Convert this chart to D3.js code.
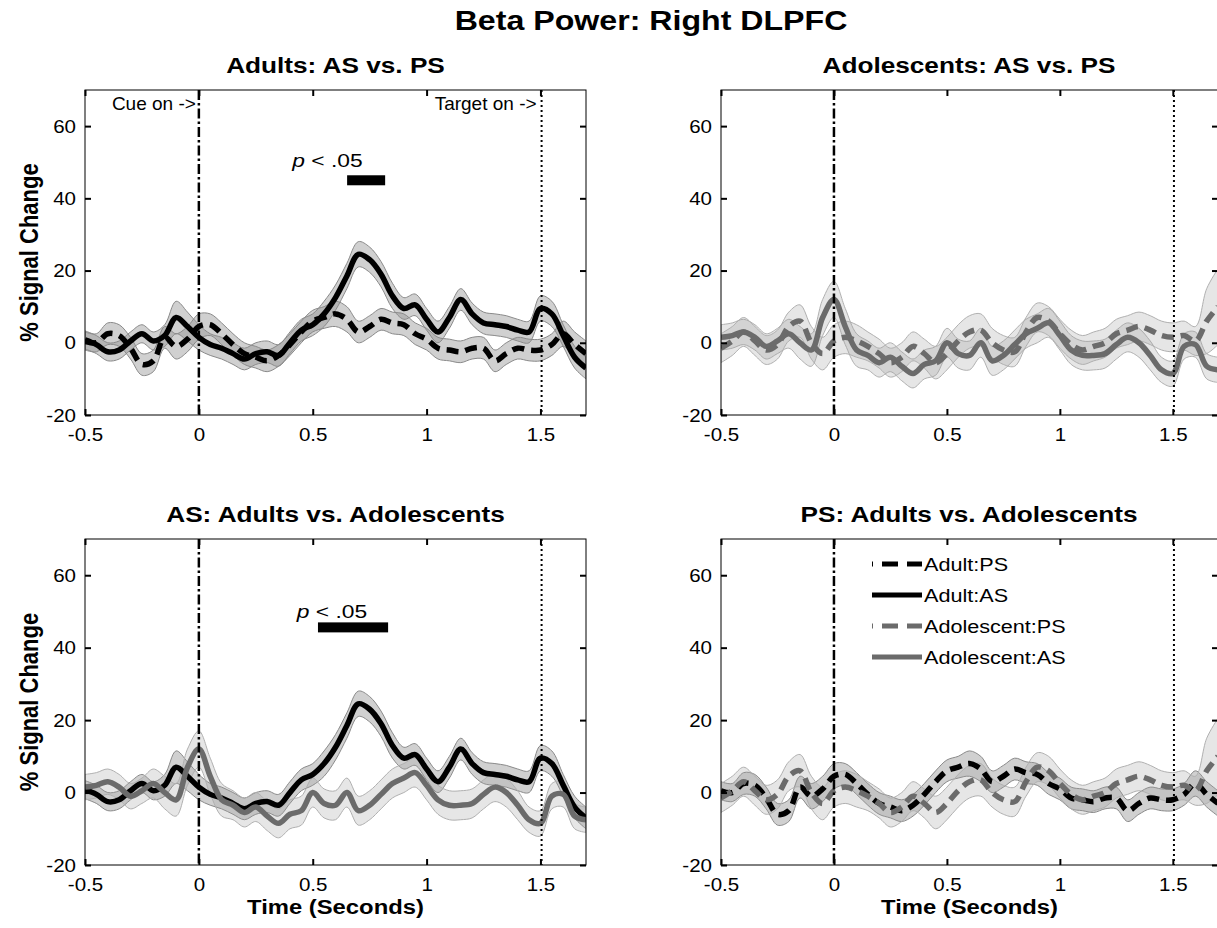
<!DOCTYPE html>
<html>
<head>
<meta charset="utf-8">
<script src="https://cdn.jsdelivr.net/npm/d3@7"></script>
<style>
  html, body { margin: 0; padding: 0; background: #fff; overflow: hidden; }
  svg { display: block; }
  text { font-family: "Liberation Sans", Arial, Helvetica, sans-serif; fill: #000; }
</style>
</head>
<body>
<svg id="fig" width="1217" height="928"></svg>
<script>
// ---- data -------------------------------------------------------------
// sample times (seconds, relative to cue onset)
const timeSec = [-0.5,-0.45,-0.4,-0.35,-0.3,-0.25,-0.2,-0.15,-0.1,-0.05,
  0,0.05,0.1,0.15,0.2,0.25,0.3,0.35,0.4,0.45,
  0.5,0.55,0.6,0.65,0.7,0.75,0.8,0.85,0.9,0.95,
  1,1.05,1.1,1.15,1.2,1.25,1.3,1.35,1.4,1.45,
  1.5,1.55,1.6,1.65,1.7];

// mean % signal change and standard error, per group and task
const adultAS = [0.8,-0.5,-2.5,-2,0.5,2.5,0.5,2,7,4.5,
  1.5,-0.5,-1.5,-3,-4.5,-3,-2.5,-3.5,0,3.5,
  5,8,12.5,18.5,24.5,23,19,13,9.5,10.5,
  6.5,3,7,12,8,5.5,5,4.5,3.5,3,
  9.5,8,2,-4,-7];
const adultASse = [2.5,2.5,2.5,2.5,2.5,2.5,2.5,3,4.5,4,
  3.5,3,3,3,3,3,3,3,3,3,
  3,3.5,3.5,3.5,3.5,3.5,3.5,3.5,3,3,
  3,3,3,3,3,3,3,3,3,3,
  3.5,3.5,3,3,3];

const adultPS = [0.5,0,2.5,2,-1.5,-6,-5,1.5,-1,1,
  4.5,5,2.5,-0.5,-3,-4,-5,-3.5,-0.5,3,
  6,7,8,6.5,3,4.5,6.5,5.5,5,2.5,
  1,-1.5,-2,-2.5,-1.5,-1.5,-5,-3,-1.5,-2,
  -2,-0.5,2.5,-0.5,-3];
const adultPSse = [2.5,2.5,3,3,3,3,3,3,3.5,3.5,
  3.5,3,3,3,3,3,3,3,3,3,
  3,3,3.5,3.5,3,3,3,3,3,3,
  3,3,3,3,3,3,3,3,3,3,
  3,3,3.5,3.5,3.5];

const adolAS = [1.5,2,3,1.5,-1,0.5,2.5,0,-2,7,
  12,4.5,-2,-3.5,-5.5,-4,-6.5,-8.5,-6,-5,
  0,-3,-3.5,0,-5,-3.5,-0.5,2.5,4,5.5,
  2,-2,-3.5,-3.5,-3,-0.5,1.5,0,-3.5,-7.5,
  -8.5,-1,-0.5,-6.5,-7.5];
const adolASse = [3.5,3.5,3.5,3.5,3.5,3.5,4,4.5,4.5,5,
  5,5,4.5,4,4,4,4,4,4,4,
  4,4,4,4,4,4,4,4,4,4,
  4,4,4,4,4,4,4,4,4,3.5,
  3.5,3.5,3.5,3.5,3.5];

const adolPS = [-1.5,0.5,3,0.5,-2,-0.5,4.5,6,0,-3,
  0.5,1.5,0.5,-1,-3,-5.5,-4,-1,-3,-5.5,
  -3,0.5,3,3.5,0,-2,-2.5,3,7,6,
  2.5,-0.5,-2,-1,0,2.5,3.5,4.5,3.5,2,
  1.5,2,0.5,6,10];
const adolPSse = [4,4,4,4,4,4,4,4.5,4.5,4.5,
  4.5,4.5,4.5,4,4,4,4,4,4,4.5,
  4.5,4.5,4.5,4.5,4,4,4,4,4,4,
  4,4,4,4,4,4,4,4,4,4,
  4,4,4,9,10.5];

const seriesNames = ["Adult:PS", "Adult:AS", "Adolescent:PS", "Adolescent:AS"];
const seriesMean = { "Adult:PS": adultPS, "Adult:AS": adultAS, "Adolescent:PS": adolPS, "Adolescent:AS": adolAS };
const seriesSE   = { "Adult:PS": adultPSse, "Adult:AS": adultASse, "Adolescent:PS": adolPSse, "Adolescent:AS": adolASse };

const panelTitles = ["Adults: AS vs. PS", "Adolescents: AS vs. PS",
                     "AS: Adults vs. Adolescents", "PS: Adults vs. Adolescents"];
const panelSeries = [["Adult:AS", "Adult:PS"], ["Adolescent:AS", "Adolescent:PS"],
                     ["Adult:AS", "Adolescent:AS"], ["Adult:PS", "Adolescent:PS"]];

const xTicks = [-0.5, 0, 0.5, 1, 1.5];
const yTicks = [-20, 0, 20, 40, 60];
const xDomain = [-0.5, 1.7];
const yDomain = [-20, 70];

const cueTime = 0;
const targetTime = 1.505;

// significance bars: panel index, time span, height (% change)
const sigBars = [
  { panel: 0, t0: 0.651, t1: 0.818, y: 45.0, labelT: 0.41, labelY: 48.6 },
  { panel: 2, t0: 0.523, t1: 0.831, y: 45.6, labelT: 0.43, labelY: 48.3 }
];

// ---- styling ----------------------------------------------------------
const lineStyle = {
  "Adult:PS":      { color: "#000000", dash: "12,7", band: "adult" },
  "Adult:AS":      { color: "#000000", dash: null,   band: "adult" },
  "Adolescent:PS": { color: "#6b6b6b", dash: "12,7", band: "adol" },
  "Adolescent:AS": { color: "#6b6b6b", dash: null,   band: "adol" }
};
const bandStyle = {
  adult: { fill: "#8f8f8f", opacity: 0.42, stroke: "#8a8a8a" },
  adol:  { fill: "#a0a0a0", opacity: 0.26, stroke: "#b0b0b0" }
};

const panels = [
  { left: 85,  top: 90,  width: 501, height: 325 },
  { left: 721, top: 90,  width: 497, height: 325 },
  { left: 85,  top: 539, width: 501, height: 326 },
  { left: 721, top: 539, width: 497, height: 326 }
];

const svg = d3.select("#fig");

function stretch(sel, k) {
  sel.each(function () {
    const w = this.getComputedTextLength();
    d3.select(this).attr("textLength", w * k).attr("lengthAdjust", "spacingAndGlyphs");
  });
}

const fmt = d => String(d);

// ---- figure title -----------------------------------------------------
svg.append("text")
  .attr("x", 651).attr("y", 30)
  .attr("text-anchor", "middle")
  .style("font-weight", "bold").style("font-size", "27px")
  .text("Beta Power: Right DLPFC")
  .call(stretch, 1.19);

// ---- panels -----------------------------------------------------------
panels.forEach((p, i) => {
  const x = d3.scaleLinear().domain(xDomain).range([0, p.width]);
  const y = d3.scaleLinear().domain(yDomain).range([p.height, 0]);
  const g = svg.append("g").attr("transform", `translate(${p.left},${p.top})`);

  const clipId = "clip" + i;
  g.append("clipPath").attr("id", clipId)
    .append("rect").attr("width", p.width).attr("height", p.height);
  const plot = g.append("g").attr("clip-path", `url(#${clipId})`);

  const names = panelSeries[i];

  // error bands
  names.forEach(name => {
    const m = seriesMean[name], se = seriesSE[name];
    const pts = timeSec.map((t, k) => ({ t, lo: m[k] - se[k], hi: m[k] + se[k] }));
    const bs = bandStyle[lineStyle[name].band];
    plot.append("path")
      .datum(pts)
      .attr("d", d3.area().x(d => x(d.t)).y0(d => y(d.lo)).y1(d => y(d.hi)).curve(d3.curveCatmullRom))
      .attr("fill", bs.fill).attr("fill-opacity", bs.opacity)
      .attr("stroke", bs.stroke).attr("stroke-width", 1);
  });

  // mean traces
  names.forEach(name => {
    const m = seriesMean[name];
    const st = lineStyle[name];
    const pts = timeSec.map((t, k) => ({ t, v: m[k] }));
    plot.append("path")
      .datum(pts)
      .attr("d", d3.line().x(d => x(d.t)).y(d => y(d.v)).curve(d3.curveCatmullRom))
      .attr("fill", "none")
      .attr("stroke", st.color).attr("stroke-width", 5.5)
      .attr("stroke-linejoin", "round")
      .attr("stroke-dasharray", st.dash);
  });

  // cue and target onset markers
  plot.append("line")
    .attr("x1", x(cueTime)).attr("x2", x(cueTime))
    .attr("y1", 0).attr("y2", p.height)
    .attr("stroke", "#000").attr("stroke-width", 2.5)
    .attr("stroke-dasharray", "10,3,2.5,3");
  plot.append("line")
    .attr("x1", x(targetTime)).attr("x2", x(targetTime))
    .attr("y1", 0).attr("y2", p.height)
    .attr("stroke", "#000").attr("stroke-width", 2)
    .attr("stroke-dasharray", "2,3");

  // frame
  g.append("rect").attr("width", p.width).attr("height", p.height)
    .attr("fill", "none").attr("stroke", "#000").attr("stroke-width", 1);

  // axes with inward ticks on all four sides
  const axB = g.append("g").attr("transform", `translate(0,${p.height})`)
    .call(d3.axisBottom(x).tickValues(xTicks).tickSize(-6).tickPadding(13).tickFormat(fmt));
  const axT = g.append("g")
    .call(d3.axisTop(x).tickValues(xTicks).tickSize(-6).tickFormat(""));
  const axL = g.append("g")
    .call(d3.axisLeft(y).tickValues(yTicks).tickSize(-6).tickPadding(9).tickFormat(fmt));
  const axR = g.append("g").attr("transform", `translate(${p.width},0)`)
    .call(d3.axisRight(y).tickValues(yTicks).tickSize(-6).tickFormat(""));
  [axB, axT, axL, axR].forEach(a => {
    a.select(".domain").remove();
    a.selectAll(".tick line").attr("stroke", "#000").attr("stroke-width", 2);
    a.selectAll(".tick text")
      .style("font-family", '"Liberation Sans", Arial, sans-serif')
      .style("font-size", "19px").attr("fill", "#000");
  });
  axB.selectAll(".tick text").call(stretch, 1.08);
  axL.selectAll(".tick text").call(stretch, 1.08);

  // panel title
  g.append("text")
    .attr("x", p.width / 2 + (i % 2 === 1 ? -0.5 : 0)).attr("y", -17)
    .attr("text-anchor", "middle")
    .style("font-weight", "bold").style("font-size", "22px")
    .text(panelTitles[i])
    .call(stretch, 1.19);

  // y label on left column
  if (i % 2 === 0) {
    g.append("text")
      .attr("transform", `translate(${38 - p.left},${p.height / 2}) rotate(-90) scale(1,1.19)`)
      .attr("text-anchor", "middle")
      .style("font-weight", "bold").style("font-size", "22px")
      .text("% Signal Change");
  }
  // x label on bottom row
  if (i >= 2) {
    g.append("text")
      .attr("x", p.width / 2).attr("y", p.height + 49)
      .attr("text-anchor", "middle")
      .style("font-weight", "bold").style("font-size", "20px")
      .text("Time (Seconds)")
      .call(stretch, 1.19);
  }

  // onset annotations on the first panel
  if (i === 0) {
    g.append("text").attr("x", x(cueTime) - 3).attr("y", 20)
      .attr("text-anchor", "end").style("font-size", "19px")
      .text("Cue on ->");
    g.append("text").attr("x", x(targetTime) - 5).attr("y", 20)
      .attr("text-anchor", "end").style("font-size", "19px")
      .text("Target on ->");
  }

  // significance bars
  sigBars.filter(b => b.panel === i).forEach(b => {
    g.append("rect")
      .attr("x", x(b.t0)).attr("width", x(b.t1) - x(b.t0))
      .attr("y", y(b.y) - 5).attr("height", 10)
      .attr("fill", "#000");
    const lab = g.append("text")
      .attr("x", x(b.labelT)).attr("y", y(b.labelY))
      .style("font-size", "19px");
    lab.append("tspan").style("font-style", "italic").text("p");
    lab.append("tspan").text(" < .05");
    lab.call(stretch, 1.2);
  });

  // legend on the last panel
  if (i === 3) {
    const lg = g.append("g").attr("transform", "translate(151,25)");
    seriesNames.forEach((name, k) => {
      const st = lineStyle[name];
      const row = lg.append("g").attr("transform", `translate(0,${k * 31})`);
      row.append("line").attr("x1", 0).attr("x2", 50).attr("y1", 0).attr("y2", 0)
        .attr("stroke", st.color).attr("stroke-width", 5)
        .attr("stroke-dasharray", st.dash ? "16,9" : null)
        .attr("stroke-dashoffset", st.dash ? 15 : null);
      row.append("text").attr("x", 52).attr("y", 7)
        .style("font-size", "18px")
        .text(name)
        .call(stretch, 1.2);
    });
  }
});
</script>
</body>
</html>
